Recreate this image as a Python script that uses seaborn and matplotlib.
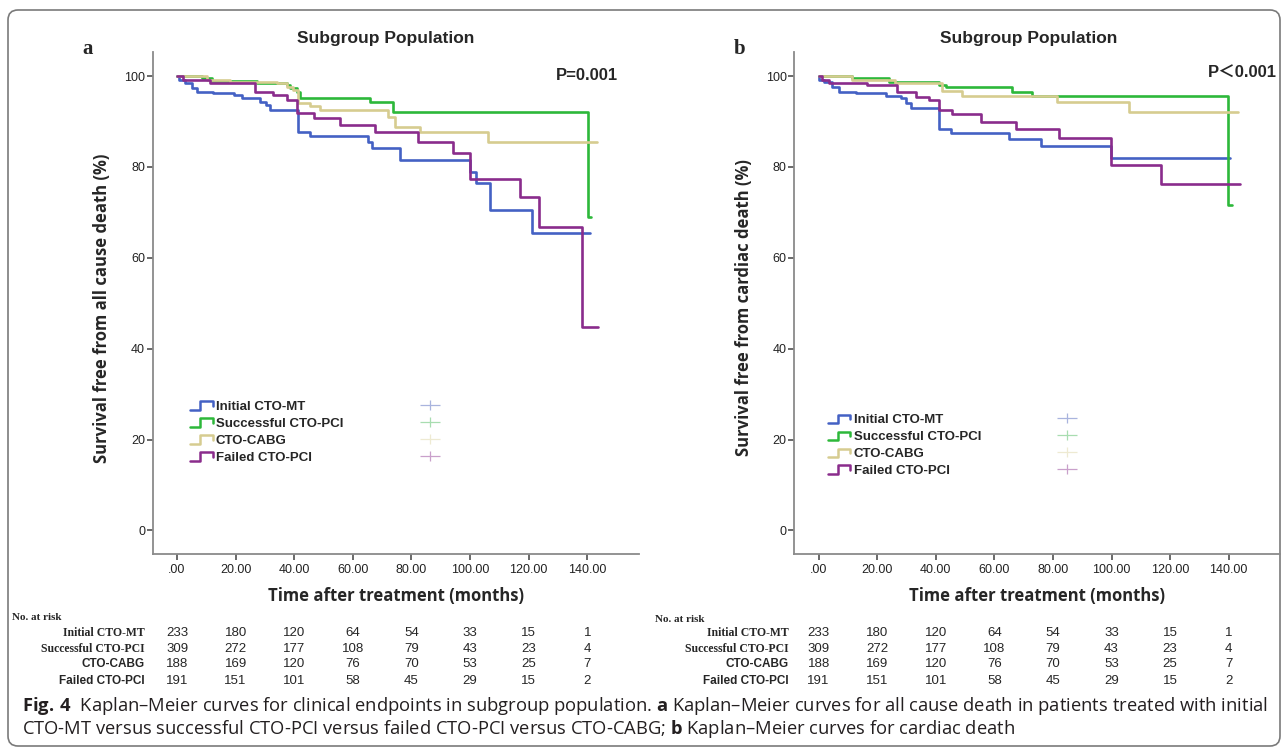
"""
Kaplan-Meier 曲线复现 (亚组人群)
"""

import matplotlib
matplotlib.use('Agg')
import matplotlib.pyplot as plt
import matplotlib.transforms as mtransforms
import seaborn as sns
import pandas as pd
from matplotlib.lines import Line2D
from matplotlib.legend_handler import HandlerBase
from matplotlib.patches import FancyBboxPatch
from matplotlib.path import Path

# ---------------- 数据 ----------------
groups = ['Initial CTO-MT', 'Successful CTO-PCI', 'CTO-CABG', 'Failed CTO-PCI']
colors = ['#4461C4', '#2DB83A', '#D6CC90', '#8A2C8C']
censor_colors = ['#A9B4DE', '#A8DDB0', '#EEEAD2', '#C9A0CB']

# 图 a: 全因死亡
a_mt_t = [0, 0.6, 2.8, 5.0, 6.7, 12.4, 19.3, 22.1, 28.3, 30.5, 31.8, 41.4, 45.3, 65.3, 66.5, 76.2, 100.0, 102.2, 106.9, 121.1, 141.0]
a_mt_s = [100, 99.1, 98.4, 97.3, 96.5, 96.2, 95.8, 95.1, 94.3, 93.6, 92.5, 87.7, 86.8, 85.5, 84.1, 81.5, 78.9, 76.5, 70.5, 65.5, 65.5]
a_succ_t = [0, 8.4, 11.8, 27.2, 37.4, 38.6, 40.8, 42.0, 65.9, 73.8, 140.1, 141.3]
a_succ_s = [100, 99.5, 99.0, 98.4, 98.0, 97.3, 96.5, 95.1, 94.3, 92.1, 69.0, 69.0]
a_cabg_t = [0, 10.1, 18.1, 34.0, 37.4, 39.7, 41.4, 45.3, 48.8, 72.1, 74.4, 82.9, 106.3, 143.3]
a_cabg_s = [100, 99.1, 98.7, 98.4, 97.6, 96.9, 94.1, 93.4, 92.5, 91.1, 88.9, 87.8, 85.4, 85.4]
a_fail_t = [0, 2.2, 11.2, 26.6, 32.6, 37.4, 40.8, 46.6, 55.6, 67.6, 82.4, 94.3, 100.0, 117.0, 123.4, 138.1, 143.8]
a_fail_s = [100, 99.1, 98.4, 96.5, 95.8, 94.7, 91.9, 90.7, 89.2, 87.7, 85.5, 83.1, 77.4, 73.4, 66.8, 44.8, 44.8]

# 图 b: 心源性死亡
b_mt_t = [0, 0.3, 1.8, 4.7, 7.0, 12.7, 22.9, 28.0, 29.7, 31.4, 41.1, 45.1, 65.0, 75.8, 99.7, 140.6]
b_mt_s = [100, 99.1, 98.7, 97.6, 96.5, 96.2, 95.6, 95.1, 94.0, 92.9, 88.3, 87.4, 86.1, 84.6, 82.0, 82.0]
b_succ_t = [0, 11.5, 24.0, 41.1, 43.4, 66.1, 72.9, 139.8, 141.0]
b_succ_s = [100, 99.5, 98.7, 98.0, 97.5, 96.5, 95.6, 71.6, 71.6]
b_cabg_t = [0, 11.5, 26.0, 42.2, 49.0, 81.5, 105.9, 143.0]
b_cabg_s = [100, 99.1, 98.4, 96.8, 95.6, 94.2, 92.0, 92.0]
b_fail_t = [0, 1.3, 3.5, 16.6, 26.9, 33.1, 37.7, 41.1, 45.6, 55.3, 67.3, 82.0, 99.7, 116.8, 143.7]
b_fail_s = [100, 99.1, 98.5, 98.0, 96.5, 95.4, 94.7, 92.6, 91.7, 90.0, 88.3, 86.4, 80.4, 76.2, 76.2]

# 风险人数表
risk_mt = [233, 180, 120, 64, 54, 33, 15, 1]
risk_succ = [309, 272, 177, 108, 79, 43, 23, 4]
risk_cabg = [188, 169, 120, 76, 70, 53, 25, 7]
risk_fail = [191, 151, 101, 58, 45, 29, 15, 2]

x_ticks = [0, 20, 40, 60, 80, 100, 120, 140]
x_tick_labels = ['.00', '20.00', '40.00', '60.00', '80.00', '100.00', '120.00', '140.00']
y_ticks = [0, 20, 40, 60, 80, 100]

W, H = 1287, 751


class StepHandler(HandlerBase):
    """图例中的阶梯形线条"""
    def create_artists(self, legend, orig_handle, xdescent, ydescent,
                       width, height, fontsize, trans):
        x0, y0 = -xdescent, -ydescent
        xs = [x0, x0 + 0.45 * width, x0 + 0.45 * width, x0 + width, x0 + width]
        ys = [y0 + 0.1 * height, y0 + 0.1 * height, y0 + 0.9 * height,
              y0 + 0.9 * height, y0 + 0.45 * height]
        line = Line2D(xs, ys, color=orig_handle.get_color(),
                      lw=orig_handle.get_linewidth(), transform=trans)
        return [line]


def build_frame(series):
    rows = []
    for name, t, s in series:
        for ti, si in zip(t, s):
            rows.append({'time': ti, 'surv': si, 'group': name})
    return pd.DataFrame(rows)


def km_panel(fig, bg, rect, df, ylabel, legend_anchor, table_x):
    ax = fig.add_axes(rect)
    ax.set_facecolor('none')
    sns.lineplot(data=df, x='time', y='surv', hue='group', hue_order=groups,
                 palette=colors, estimator=None, sort=False, legend=False,
                 drawstyle='steps-post', lw=1.9, ax=ax)
    ax.set_xlim(-8.3, 157.5)
    ax.set_ylim(-5.2, 105.3)
    ax.set_xticks(x_ticks)
    ax.set_xticklabels(x_tick_labels)
    ax.set_yticks(y_ticks)
    for side in ['top', 'right']:
        ax.spines[side].set_visible(False)
    for side in ['left', 'bottom']:
        ax.spines[side].set_color('#8a8a8a')
        ax.spines[side].set_linewidth(1.3)
    ax.tick_params(axis='both', direction='out', length=4.5, width=1.2,
                   bottom=True, left=True,
                   color='#505050', labelsize=9, labelcolor='#222222')
    ax.tick_params(axis='y', pad=1)
    ax.tick_params(axis='x', pad=3)
    ax.set_xlabel('Time after treatment (months)', fontsize=12,
                  fontweight='bold', family='Open Sans')
    ax.set_ylabel(ylabel, fontsize=12, fontweight='bold', family='Open Sans')
    ax.xaxis.set_label_coords(0.5, -0.066)
    ax.yaxis.set_label_coords(-0.086, 0.49)

    # 图例: 阶梯线 + 删失标记
    plus = Path([(-1, 0), (1, 0), (0, -0.5), (0, 0.5)],
                [Path.MOVETO, Path.LINETO, Path.MOVETO, Path.LINETO])
    step_handles = [Line2D([], [], color=c, lw=1.8) for c in colors]
    cens_handles = [Line2D([], [], color=c, marker=plus, ls='', ms=14, mew=0.9)
                    for c in censor_colors]
    hmap = {h: StepHandler() for h in step_handles}
    ax.legend(step_handles + cens_handles, groups + [''] * 4, ncol=2,
              handler_map=hmap, loc='upper left', bbox_to_anchor=legend_anchor,
              frameon=False, borderpad=0, borderaxespad=0,
              handlelength=1.7, handleheight=0.9, handletextpad=0.25,
              labelspacing=0.3, columnspacing=5.7,
              prop={'family': 'Liberation Sans', 'weight': 'bold', 'size': 9.5})

    # 风险人数表
    trans = mtransforms.blended_transform_factory(ax.transData, bg.transData)
    rows_y = [633, 648.5, 664, 680.5]
    counts = [risk_mt, risk_succ, risk_cabg, risk_fail]
    label_fonts = ['Liberation Serif', 'Liberation Serif', 'Liberation Sans', 'Liberation Sans']
    for name, n, y, fam in zip(groups, counts, rows_y, label_fonts):
        bg.text(table_x, y, name, ha='right', va='center', fontsize=8.5,
                fontweight='bold', family=fam)
        for xt, v in zip(x_ticks, n):
            bg.text(xt, y, str(v), transform=trans, ha='center', va='center',
                    fontsize=9.5, family='Liberation Sans')
    return ax


sns.set_style('white')
plt.rcParams['font.family'] = ['Liberation Sans', 'Noto Sans CJK SC', 'DejaVu Sans']
plt.rcParams['mathtext.fontset'] = 'custom'
plt.rcParams['mathtext.rm'] = 'Open Sans'
plt.rcParams['mathtext.bf'] = 'Open Sans:bold'

fig = plt.figure(figsize=(W / 100, H / 100), dpi=100, facecolor='white')
bg = fig.add_axes([0, 0, 1, 1], zorder=-1)
bg.set_xlim(0, W)
bg.set_ylim(H, 0)
bg.axis('off')

# 外框
bg.add_patch(FancyBboxPatch((8, 10), 1272, 736, boxstyle='round,pad=0,rounding_size=10',
                            fc='none', ec='#7a7a7a', lw=1.2))

df_a = build_frame([(groups[0], a_mt_t, a_mt_s), (groups[1], a_succ_t, a_succ_s),
                    (groups[2], a_cabg_t, a_cabg_s), (groups[3], a_fail_t, a_fail_s)])
df_b = build_frame([(groups[0], b_mt_t, b_mt_s), (groups[1], b_succ_t, b_succ_s),
                    (groups[2], b_cabg_t, b_cabg_s), (groups[3], b_fail_t, b_fail_s)])

km_panel(fig, bg, [152.7 / W, 1 - 554 / H, 485.8 / W, 502 / H], df_a,
         'Survival free from all cause death (%)', (0.077, 0.306), 145)
km_panel(fig, bg, [794.3 / W, 1 - 554 / H, 485.7 / W, 502 / H], df_b,
         'Survival free from cardiac death (%)', (0.069, 0.280), 789)

# 标题、P值与面板字母
bg.text(386, 39, 'Subgroup Population', ha='center', va='center', fontsize=12.5, fontweight='bold')
bg.text(1029, 39, 'Subgroup Population', ha='center', va='center', fontsize=12.5, fontweight='bold')
bg.text(618, 75, 'P=0.001', ha='right', va='center', fontsize=12, fontweight='bold')
bg.text(1277, 73, 'P\uff1c0.001', ha='right', va='center', fontsize=12, fontweight='bold',
        family=['Liberation Sans', 'Noto Sans CJK SC'])
bg.text(88, 49, 'a', ha='center', va='center', fontsize=15, fontweight='bold', family='Liberation Serif')
bg.text(740, 49, 'b', ha='center', va='center', fontsize=15, fontweight='bold', family='Liberation Serif')
bg.text(12, 618, 'No. at risk', ha='left', va='center', fontsize=8, fontweight='bold', family='Liberation Serif')
bg.text(655, 620, 'No. at risk', ha='left', va='center', fontsize=8, fontweight='bold', family='Liberation Serif')

# 图注
cap1 = (r'$\mathbf{Fig.\,4}$  Kaplan–Meier curves for clinical endpoints in subgroup population. '
        r'$\mathbf{a}$ Kaplan–Meier curves for all cause death in patients treated with initial')
cap2 = (r'CTO-MT versus successful CTO-PCI versus failed CTO-PCI versus CTO-CABG; '
        r'$\mathbf{b}$ Kaplan–Meier curves for cardiac death')
bg.text(22, 706, cap1, ha='left', va='center', fontsize=13.2, family='Open Sans', color='#231f20')
bg.text(22, 729, cap2, ha='left', va='center', fontsize=13.2, family='Open Sans', color='#231f20')

fig.savefig('out.png', dpi=100, facecolor='white')
